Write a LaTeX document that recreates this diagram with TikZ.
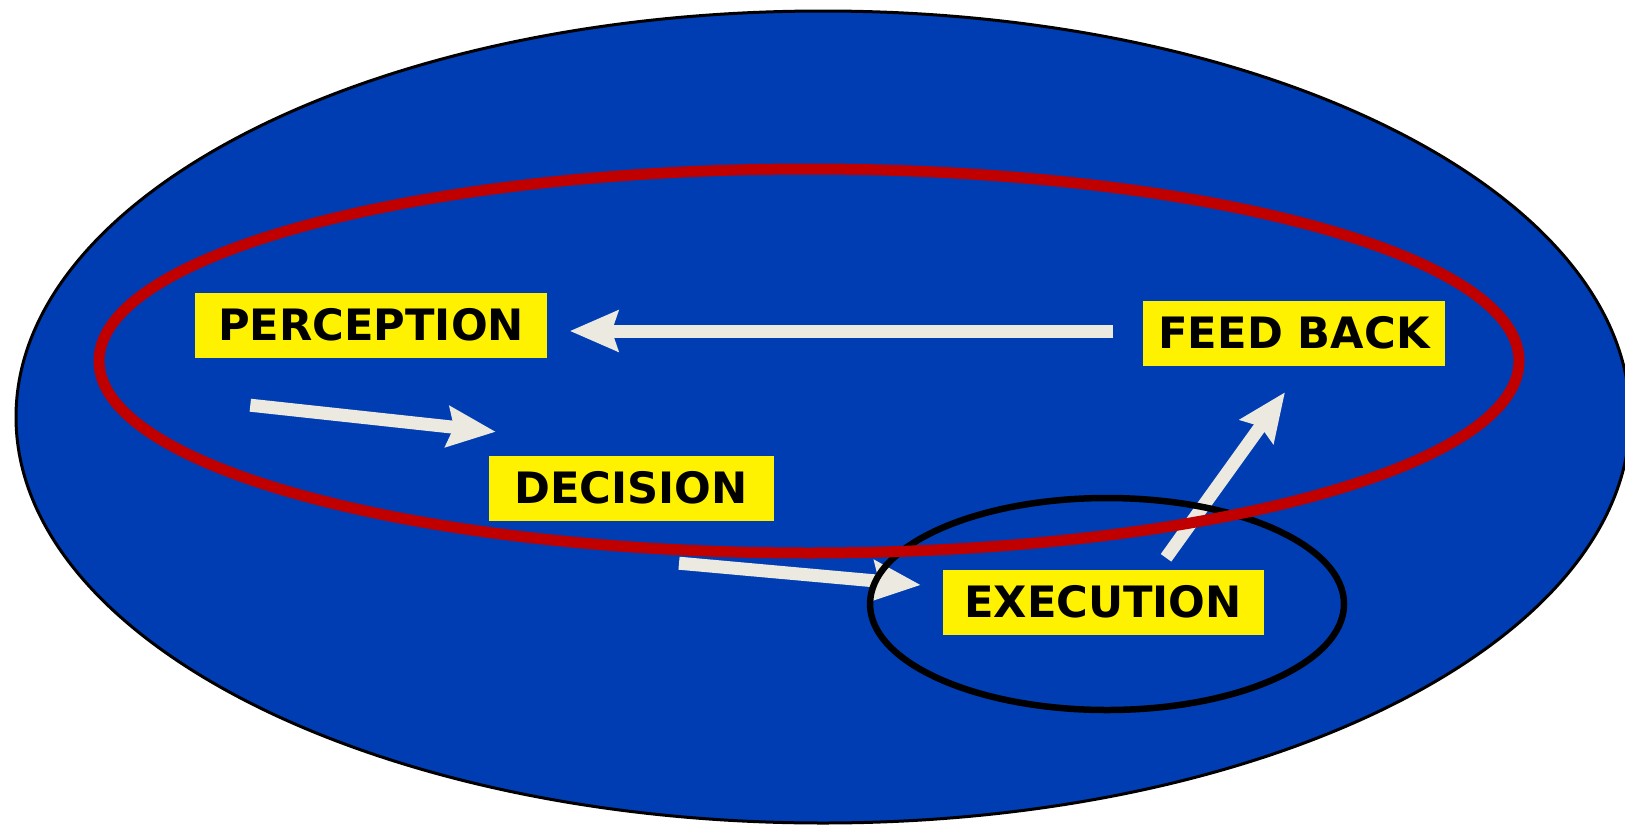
\documentclass[tikz,border=0pt]{standalone}
\usepackage{fontspec}
\setmainfont{DejaVu Sans}
\usetikzlibrary{arrows.meta,calc}

\definecolor{ovalblue}{RGB}{0,61,178}
\definecolor{loopred}{RGB}{192,0,0}
\definecolor{arrowcream}{RGB}{236,233,224}

\tikzset{
  stage/.style={fill=yellow, inner sep=0pt, minimum height=6.5mm,
    font=\bfseries\fontsize{12.3}{14}\selectfont},
  flow/.style={draw=arrowcream, line width=1.3mm,
    -{Stealth[length=4.8mm,width=4.0mm,inset=0.6mm]}}
}

\begin{document}
\begin{tikzpicture}[x=0.1mm,y=-0.1mm]
    \useasboundingbox (0,0) rectangle (1625,825);
    \clip (0,0) rectangle (1625,825);
    \fill[white] (0,0) rectangle (1625,825);
    \filldraw[fill=ovalblue, draw=black, line width=0.3mm]
        (823,417) ellipse [x radius=80.7mm, y radius=40.6mm];

    \node[stage, minimum width=35.2mm] (perc) at (371,325) {PERCEPTION};
    \node[stage, minimum width=30.2mm] (feed) at (1294,333) {FEED BACK};
    \node[stage, minimum width=28.5mm] (dec) at (631,488) {DECISION};
    \node[stage, minimum width=32.1mm] (exe) at (1103,602) {EXECUTION};

    \draw[flow] ($(feed.west)+(-29,-2)$) -- ($(perc.east)+(22,6)$);
    \draw[flow] ($(perc.south west)+(56,47)$) -- ($(dec.north west)+(8,-23)$);
    \draw[flow] ($(dec.south)+(48,42)$) -- ($(exe.west)+(-21,-17)$);
    \draw[flow] ($(exe.north)+(63,-11)$) -- ($(feed.south)+(-9,26)$);

    % loops drawn over the arrows
    \draw[black, line width=0.65mm] (1107,604) ellipse [x radius=23.7mm, y radius=10.6mm];
    \draw[loopred, line width=1.1mm] (809,361) ellipse [x radius=71.0mm, y radius=19.2mm];
\end{tikzpicture}
\end{document}
